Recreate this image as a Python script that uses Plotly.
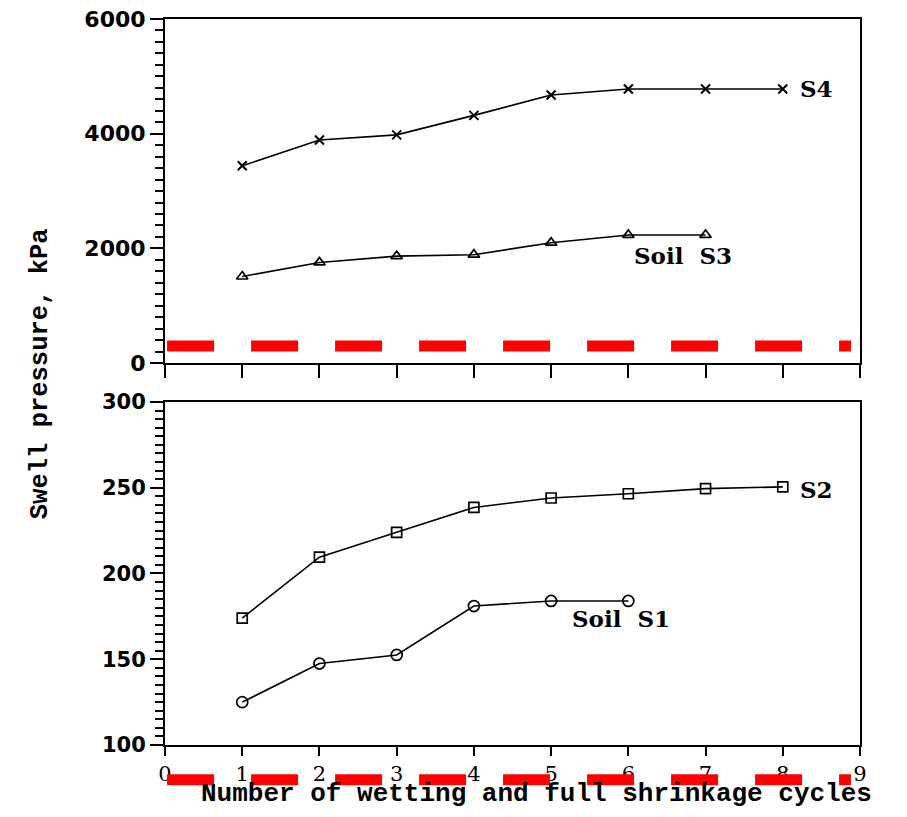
import plotly.graph_objects as go

# ---- data ----
s4_cycles = [1, 2, 3, 4, 5, 6, 7, 8]
s4_kpa = [3440, 3890, 3980, 4320, 4675, 4780, 4780, 4780]
s3_cycles = [1, 2, 3, 4, 5, 6, 7]
s3_kpa = [1510, 1755, 1865, 1890, 2100, 2235, 2235]
s2_cycles = [1, 2, 3, 4, 5, 6, 7, 8]
s2_kpa = [174, 209.5, 224, 238.5, 244, 246.5, 249.5, 250.5]
s1_cycles = [1, 2, 3, 4, 5, 6]
s1_kpa = [125, 147.5, 152.5, 181, 184, 184]

top_ticks = [0, 2000, 4000, 6000]
bottom_ticks = [100, 150, 200, 250, 300]
x_ticks = [0, 1, 2, 3, 4, 5, 6, 7, 8, 9]

label_font = dict(family="DejaVu Serif", size=23, color="black", weight="bold")
line_style = dict(color="black", width=1.6)

fig = go.Figure()
fig.add_trace(go.Scatter(x=s4_cycles, y=s4_kpa, mode="lines+markers", line=line_style,
                         marker=dict(symbol="x-thin", size=9, line=dict(color="black", width=2)),
                         xaxis="x", yaxis="y", showlegend=False))
fig.add_trace(go.Scatter(x=s3_cycles, y=s3_kpa, mode="lines+markers", line=line_style,
                         marker=dict(symbol="triangle-up-open", size=10, color="black", line=dict(width=1.7)),
                         xaxis="x", yaxis="y", showlegend=False))
fig.add_trace(go.Scatter(x=s2_cycles, y=s2_kpa, mode="lines+markers", line=line_style,
                         marker=dict(symbol="square-open", size=10, color="black", line=dict(width=1.7)),
                         xaxis="x2", yaxis="y2", showlegend=False))
fig.add_trace(go.Scatter(x=s1_cycles, y=s1_kpa, mode="lines+markers", line=line_style,
                         marker=dict(symbol="circle-open", size=11, color="black", line=dict(width=1.7)),
                         xaxis="x2", yaxis="y2", showlegend=False))

axis_common = dict(showline=True, linecolor="black", linewidth=2, mirror=True,
                   ticks="outside", tickwidth=2, tickcolor="black",
                   showgrid=False, zeroline=False, automargin=False,
                   ticklabeloverflow="allow")

fig.update_layout(
    width=891, height=801,
    margin=dict(l=157, r=39, t=11, b=64),
    plot_bgcolor="white", paper_bgcolor="white",
    xaxis=dict(domain=[0, 1], anchor="y", range=[0, 9], tickvals=x_ticks, ticklen=13,
               showticklabels=False, **axis_common),
    yaxis=dict(domain=[0.526, 1], anchor="x", range=[0, 6000], tickvals=top_ticks, ticklen=13,
               tickfont=dict(family="DejaVu Sans", size=22, color="black", weight="bold"),
               minor=dict(dtick=200, ticks="outside", ticklen=8, tickwidth=1.5, tickcolor="black"),
               **axis_common),
    xaxis2=dict(domain=[0, 1], anchor="y2", range=[0, 9], tickvals=x_ticks, ticklen=9,
                tickfont=dict(family="DejaVu Serif", size=21, color="black"),
                **axis_common),
    yaxis2=dict(domain=[0, 0.4725], anchor="x2", range=[100, 300], tickvals=bottom_ticks, ticklen=13,
                tickfont=dict(family="DejaVu Sans", size=21, color="black", weight="bold"),
                minor=dict(dtick=5, ticks="outside", ticklen=8, tickwidth=1.5, tickcolor="black"),
                **axis_common),
)

annotations = [
    dict(x=8.2, y=4780, xref="x", yref="y", text="S4", xanchor="left", yanchor="middle"),
    dict(x=6.05, y=1880, xref="x", yref="y", text="Soil\u00a0\u00a0S3", xanchor="left", yanchor="middle"),
    dict(x=8.2, y=249, xref="x2", yref="y2", text="S2", xanchor="left", yanchor="middle"),
    dict(x=5.24, y=174, xref="x2", yref="y2", text="Soil\u00a0\u00a0S1", xanchor="left", yanchor="middle"),
]
for a in annotations:
    fig.add_annotation(showarrow=False, font=label_font, **a)

fig.add_annotation(text="Swell pressure, kPa", xref="paper", yref="paper",
                   x=-0.180, y=0.512, textangle=-90, showarrow=False,
                   xanchor="center", yanchor="middle",
                   font=dict(family="Liberation Mono", size=25.5, color="black", weight="bold"))
fig.add_annotation(text="Number of wetting and full shrinkage cycles", xref="paper", yref="paper",
                   x=0.535, y=-0.068, showarrow=False, xanchor="center", yanchor="middle",
                   font=dict(family="Liberation Mono", size=26, color="black", weight="bold"))

# red dashed overlay bars
red = dict(color="#ff0000", width=11, dash="47px,37px")
fig.add_shape(type="line", xref="paper", yref="y", x0=0.003, x1=0.987, y0=300, y1=300,
              line=red, layer="above")
fig.add_shape(type="line", xref="paper", yref="paper", x0=0.003, x1=0.987, y0=-0.048, y1=-0.048,
              line=red, layer="above")

fig.write_html("out.html")
